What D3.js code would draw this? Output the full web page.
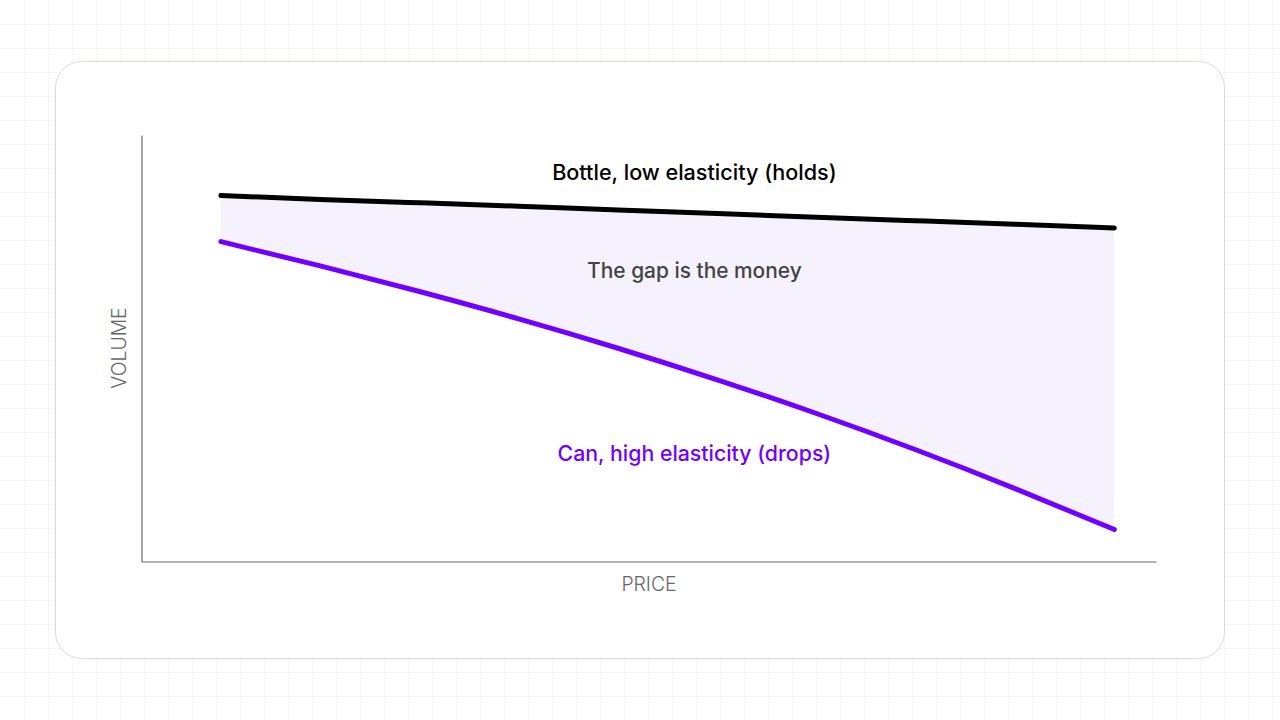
<!DOCTYPE html>
<html lang="en">
<head>
<meta charset="UTF-8">
<title>Elasticity gap</title>
<script src="https://d3js.org/d3.v7.min.js"></script>
<style>
  html, body { margin: 0; padding: 0; background: #fff; }
  svg { display: block; }
</style>
</head>
<body>
<svg width="1280" height="720"></svg>
<script>
  // price points along the x axis
  const price = [1, 2, 3, 4, 5, 6, 7, 8, 9, 10];
  // volume for the bottle (low elasticity)
  const bottleVolume = [85.8, 84.9, 84.1, 83.3, 82.4, 81.6, 80.7, 79.9, 79.1, 78.2];
  // volume for the can (high elasticity)
  const canVolume = [75.0, 69.3, 63.3, 56.9, 50.0, 42.6, 34.7, 26.2, 17.1, 7.5];

  const labels = {
    bottle: "Bottle, low elasticity (holds)",
    gap: "The gap is the money",
    can: "Can, high elasticity (drops)",
    x: "PRICE",
    y: "VOLUME"
  };

  const W = 1280, H = 720;
  const svg = d3.select("svg");

  // background grid
  const grid = svg.append("g");
  grid.selectAll("line.v")
    .data(d3.range(24, W, 24))
    .enter().append("line")
    .attr("x1", d => d + 0.5).attr("x2", d => d + 0.5)
    .attr("y1", 0).attr("y2", H)
    .attr("stroke", "#f6f4fd").attr("stroke-width", 1);
  grid.selectAll("line.h")
    .data(d3.range(24, H, 24))
    .enter().append("line")
    .attr("y1", d => d + 0.5).attr("y2", d => d + 0.5)
    .attr("x1", 0).attr("x2", W)
    .attr("stroke", "#f6f4fd").attr("stroke-width", 1);

  // card
  svg.append("rect")
    .attr("x", 55.5).attr("y", 61.5)
    .attr("width", 1169).attr("height", 597)
    .attr("rx", 26).attr("ry", 26)
    .attr("fill", "#fff")
    .attr("stroke", "#d9d9d6")
    .attr("stroke-width", 1);

  const x = d3.scaleLinear().domain([0.2, 10.42]).range([141.5, 1156]);
  const y = d3.scaleLinear().domain([0, 100]).range([561.5, 135]);

  const rows = price.map((p, i) => ({ p, bottle: bottleVolume[i], can: canVolume[i] }));

  // shaded gap
  const area = d3.area()
    .x(d => x(d.p))
    .y0(d => y(d.can))
    .y1(d => y(d.bottle))
    .curve(d3.curveNatural);

  svg.append("path")
    .datum(rows)
    .attr("d", area)
    .attr("fill", "#f5f2fd");

  // axes (no ticks)
  svg.append("g")
    .attr("transform", `translate(0,${y(0)})`)
    .call(d3.axisBottom(x).tickValues([]).tickSizeOuter(0));
  svg.append("g")
    .attr("transform", `translate(${x(0.2)},0)`)
    .call(d3.axisLeft(y).tickValues([]).tickSizeOuter(0));
  svg.selectAll(".domain").attr("stroke", "#6b6b6b").attr("stroke-width", 1.2);

  const line = key => d3.line()
    .x(d => x(d.p))
    .y(d => y(d[key]))
    .curve(d3.curveNatural);

  svg.append("path")
    .datum(rows)
    .attr("d", line("bottle"))
    .attr("fill", "none")
    .attr("stroke", "#000")
    .attr("stroke-width", 5)
    .attr("stroke-linecap", "round");

  svg.append("path")
    .datum(rows)
    .attr("d", line("can"))
    .attr("fill", "none")
    .attr("stroke", "#7200ff")
    .attr("stroke-width", 5)
    .attr("stroke-linecap", "round");

  // annotations
  const font = "Inter, 'Noto Sans', sans-serif";
  const cx = x(5.77);

  svg.append("text")
    .attr("x", cx).attr("y", 180)
    .attr("text-anchor", "middle")
    .style("font-family", font).style("font-size", "21.6px").style("font-weight", 500)
    .attr("fill", "#000")
    .text(labels.bottle);

  svg.append("text")
    .attr("x", cx).attr("y", 278)
    .attr("text-anchor", "middle")
    .style("font-family", font).style("font-size", "20.9px").style("font-weight", 500)
    .attr("fill", "#434343")
    .text(labels.gap);

  svg.append("text")
    .attr("x", cx).attr("y", 461)
    .attr("text-anchor", "middle")
    .style("font-family", font).style("font-size", "21.3px").style("font-weight", 500)
    .attr("fill", "#7200ff")
    .text(labels.can);

  svg.append("text")
    .attr("x", 649).attr("y", 591)
    .attr("text-anchor", "middle")
    .style("font-family", font).style("font-size", "19.4px").style("font-weight", 300)
    .attr("fill", "#666")
    .text(labels.x);

  svg.append("text")
    .attr("transform", "translate(126,348) rotate(-90)")
    .attr("text-anchor", "middle")
    .style("font-family", font).style("font-size", "19.4px").style("font-weight", 300)
    .attr("fill", "#666")
    .text(labels.y);
</script>
</body>
</html>
